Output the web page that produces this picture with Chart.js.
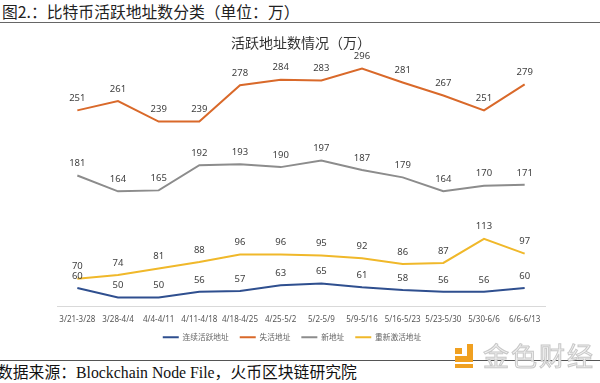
<!DOCTYPE html>
<html>
<head>
<meta charset="utf-8">
<script src="https://cdn.jsdelivr.net/npm/chart.js@4.4.1/dist/chart.umd.min.js"></script>
<style>
  html, body { margin: 0; padding: 0; background: #fff; }
  body { width: 600px; height: 383px; position: relative; overflow: hidden; font-family: "Noto Sans CJK SC", "Noto Sans", sans-serif; }
  #hdr { position: absolute; left: 2px; top: 2px; font-size: 15.8px; color: #222; white-space: nowrap; line-height: 20px; }
  #hdrline { position: absolute; left: 0; top: 22px; width: 600px; height: 1px; background: #666; }
  #wrap { position: absolute; left: 0; top: 28px; width: 600px; height: 323px; }
  #ftline { position: absolute; left: 0; top: 360px; width: 600px; height: 1px; background: #555; }
  #ft { position: absolute; left: -3px; top: 364px; font-size: 15.8px; color: #111; white-space: nowrap; line-height: 18px; font-family: "Liberation Serif", "Noto Sans CJK SC", serif; }
  #wm { position: absolute; left: 455px; top: 340px; height: 30px; }
  #wmlogo { position: absolute; left: 0; top: 4px; width: 20px; height: 24px; }
  #wmtext { position: absolute; left: 28px; top: 0px; font-size: 26px; color: #f3f3f3; -webkit-text-stroke: 1px #c8c8c8; white-space: nowrap; letter-spacing: 2px; line-height: 30px; }
</style>
</head>
<body>
<div id="hdr">图2.：比特币活跃地址数分类（单位：万）</div>
<div id="hdrline"></div>
<div id="wrap"><canvas id="c"></canvas></div>
<div id="ftline"></div>
<div id="ft">数据来源：Blockchain Node File，火币区块链研究院</div>
<div id="wm">
  <svg id="wmlogo" viewBox="0 0 20 24"><rect x="12" y="0" width="6" height="18" fill="#F0A020"/><rect x="0" y="12" width="18" height="6" fill="#F0A020"/><rect x="0" y="4" width="7" height="6" fill="#F0A020"/><rect x="0" y="20" width="18" height="4" fill="#F0A020"/></svg>
  <div id="wmtext">金色财经</div>
</div>
<script>
const categories = ['3/21-3/28','3/28-4/4','4/4-4/11','4/11-4/18','4/18-4/25','4/25-5/2','5/2-5/9','5/9-5/16','5/16-5/23','5/23-5/30','5/30-6/6','6/6-6/13'];
const continuousActive = [60,50,50,56,57,63,65,61,58,56,56,60];
const lostAddr = [251,261,239,239,278,284,283,296,281,267,251,279];
const newAddr = [181,164,165,192,193,190,197,187,179,164,170,171];
const reactivated = [70,74,81,88,96,96,95,92,86,87,113,97];
const seriesNames = ['连续活跃地址','失活地址','新地址','重新激活地址'];
const chartTitle = '活跃地址数情况（万）';

const LEGEND_PAD = 11;

const labelPlugin = {
  id: 'valueLabels',
  afterDatasetsDraw(chart) {
    const ctx = chart.ctx;
    ctx.save();
    ctx.font = '9.5px "Noto Sans", sans-serif';
    ctx.fillStyle = '#404040';
    ctx.textAlign = 'center';
    ctx.textBaseline = 'middle';
    chart.data.datasets.forEach((ds, i) => {
      const meta = chart.getDatasetMeta(i);
      meta.data.forEach((pt, j) => {
        ctx.fillText(String(ds.data[j]), pt.x, pt.y - 12);
      });
    });
    ctx.restore();
  }
};

const legendTweak = {
  id: 'legendTweak',
  beforeUpdate(chart) {
    const lg = chart.legend;
    if (lg && !lg._tweaked) {
      lg._tweaked = true;
      const origFit = lg.fit;
      lg.fit = function () {
        origFit.call(this);
        this.height -= (LEGEND_PAD - 1);
      };
    }
  },
  afterLayout(chart) {
    const lg = chart.legend;
    if (lg) { lg.left -= 18; lg.top -= 10; lg.bottom -= 10; }
  }
};

const colors = ['#2F4F8F', '#D9692A', '#8C8C8C', '#F0B82A'];
const values = [continuousActive, lostAddr, newAddr, reactivated];

new Chart(document.getElementById('c'), {
  type: 'line',
  data: {
    labels: categories,
    datasets: values.map((v, i) => ({
      label: seriesNames[i],
      data: v,
      borderColor: colors[i],
      backgroundColor: colors[i],
      borderWidth: 2,
      pointRadius: 0,
      tension: 0,
      fill: false
    }))
  },
  options: {
    responsive: true,
    maintainAspectRatio: false,
    animation: false,
    layout: { padding: { left: 57, right: 55, top: 0, bottom: 0 } },
    plugins: {
      title: {
        display: true,
        text: chartTitle,
        color: '#333',
        font: { size: 14, family: '"Noto Sans CJK SC", sans-serif', weight: 'normal' },
        padding: { top: 6, bottom: 4 }
      },
      legend: {
        position: 'bottom',
        labels: {
          usePointStyle: true,
          pointStyle: 'line',
          pointStyleWidth: 16,
          boxHeight: 6,
          color: '#666',
          font: { size: 7.7, family: '"Noto Sans CJK SC", sans-serif' },
          padding: LEGEND_PAD
        }
      },
      tooltip: { enabled: false }
    },
    scales: {
      x: {
        offset: true,
        grid: { display: false, drawTicks: false },
        border: { display: true, color: '#d9d9d9', width: 1 },
        ticks: { color: '#555', font: { size: 8, family: '"Noto Sans", sans-serif' }, maxRotation: 0, autoSkip: false, padding: 8 }
      },
      y: {
        display: false,
        min: 40,
        max: 310.7
      }
    }
  },
  plugins: [labelPlugin, legendTweak]
});
</script>
</body>
</html>
